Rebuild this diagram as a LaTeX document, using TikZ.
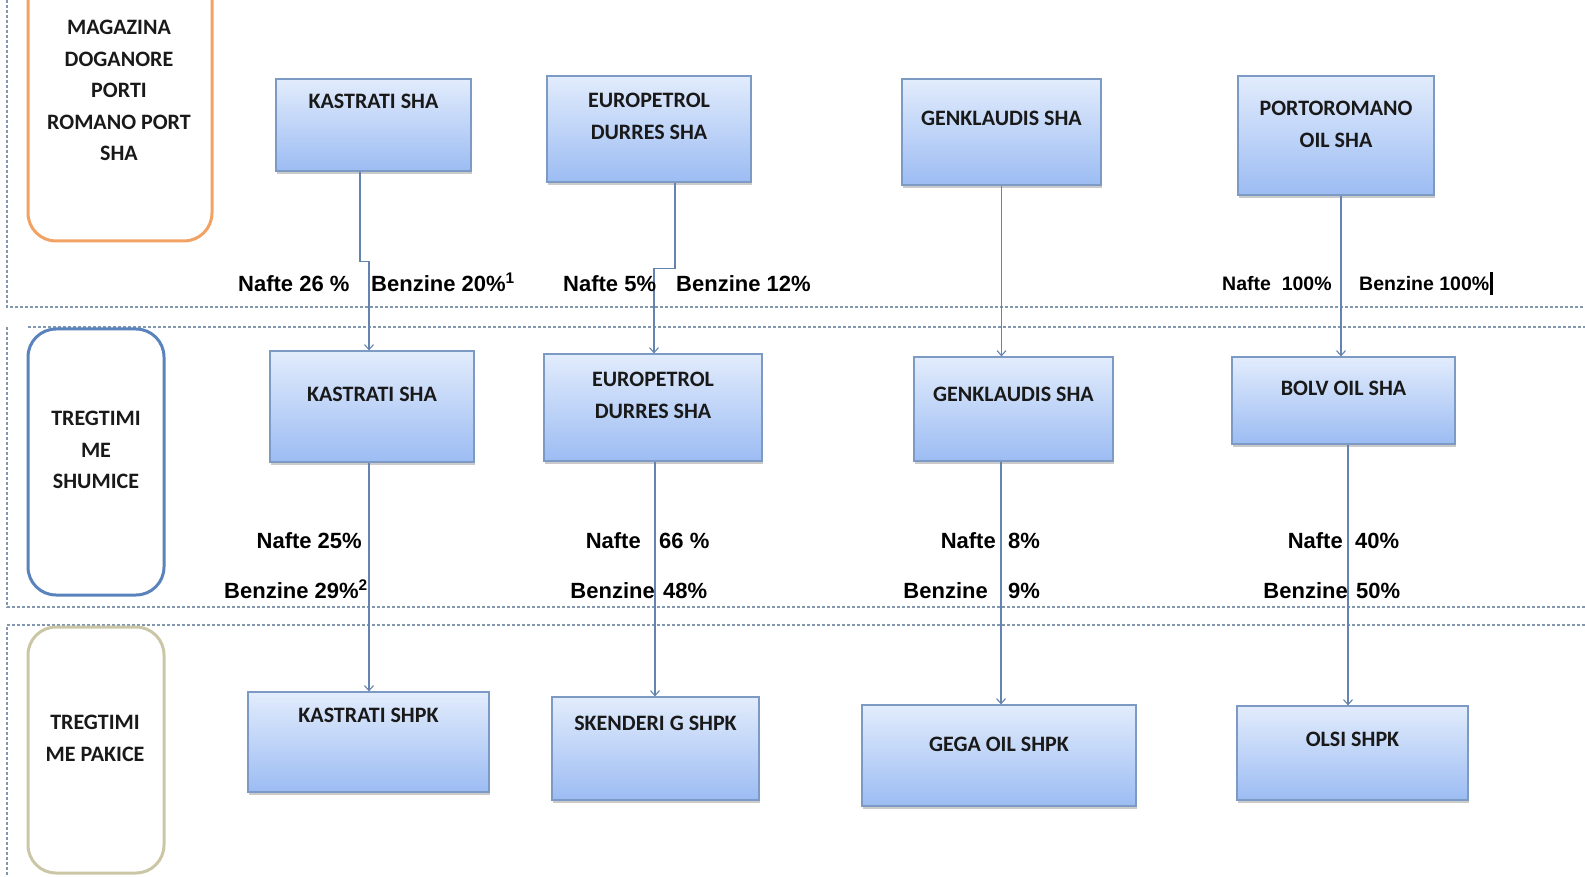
\documentclass[tikz,border=0pt]{standalone}
\usepackage{fontspec}
\setmainfont{Carlito}
\newfontfamily\labelfont{Liberation Sans}
\usetikzlibrary{arrows.meta,positioning,calc,shadows}

\definecolor{boxtop}{HTML}{E2ECFC}
\definecolor{boxbot}{HTML}{9CBCF3}
\definecolor{boxline}{HTML}{7C9AC4}
\definecolor{flowline}{HTML}{6483AE}
\definecolor{gridline}{HTML}{8397B0}
\definecolor{portorange}{HTML}{F2A263}
\definecolor{wholeblue}{HTML}{5A82BC}
\definecolor{retailtan}{HTML}{CBC6A6}

\tikzset{
  firm/.style={draw=boxline, line width=1.2pt, top color=boxtop, bottom color=boxbot,
    drop shadow={opacity=0.35, shadow xshift=1pt, shadow yshift=-3pt, fill=black!60}, inner sep=0pt},
  firmtext/.style={font=\bfseries\fontsize{22}{32}\selectfont, align=center, inner sep=0pt, text=black!90},
  levelbox/.style={rounded corners=28pt, line width=3pt, inner sep=0pt},
  leveltext/.style={font=\bfseries\fontsize{22}{31.5}\selectfont, align=center, inner sep=0pt, text=black!90},
  share/.style={font=\labelfont\bfseries\fontsize{22}{26}\selectfont, inner sep=0pt},
  shareport/.style={font=\labelfont\bfseries\fontsize{19.5}{24}\selectfont, inner sep=0pt},
  flow/.style={draw=flowline, line width=1.1pt, -{Straight Barb[length=5pt,width=9pt,line width=1.1pt]}},
  lane/.style={draw=gridline, line width=1.1pt, dash pattern=on 3pt off 2pt},
}

\begin{document}
\begin{tikzpicture}[x=1pt,y=-1pt]
\useasboundingbox (0,0) rectangle (1585,877);

% Lanes
\draw[lane] (7,0) -- (7,307) -- (1585,307);
\draw[lane] (28,327) -- (1585,327);
\draw[lane] (7,327) -- (7,607) -- (1585,607);
\draw[lane] (7,625) -- (1585,625);
\draw[lane] (7,627) -- (7,877);

% Levels
\node[levelbox, draw=portorange, minimum width=184pt, minimum height=281pt] (port) at (120,100.5) {};
\node[leveltext] (portt) at (119,90.5) {MAGAZINA\\DOGANORE\\PORTI\\ROMANO PORT\\SHA};
\node[levelbox, draw=wholeblue, minimum width=136pt, minimum height=266pt] (whole) at (96,462) {};
\node[leveltext] (wholet) at (96,450) {TREGTIMI\\ME\\SHUMICE};
\node[levelbox, draw=retailtan, minimum width=136pt, minimum height=246pt] (retail) at (96,750) {};
\node[leveltext] (retailt) at (95,738.5) {TREGTIMI\\ME PAKICE};

% Customs warehouses
\node[firm, minimum width=195pt, minimum height=92pt] (kasA) at (373.5,125) {};
\node[firmtext] (kasAt) at (kasA.center |- 0,101) {KASTRATI SHA};
\node[firm, minimum width=204pt, minimum height=106pt] (eurA) at (649,129) {};
\node[firmtext] (eurAt) at (eurA.center |- 0,116) {EUROPETROL\\DURRES SHA};
\node[firm, minimum width=199pt, minimum height=106pt] (genA) at (1001.5,132) {};
\node[firmtext] (genAt) at (genA.center |- 0,118) {GENKLAUDIS SHA};
\node[firm, minimum width=196pt, minimum height=119pt] (porA) at (1336,135.5) {};
\node[firmtext] (porAt) at (porA.center |- 0,124.5) {PORTOROMANO\\OIL SHA};

% Wholesale
\node[firm, minimum width=204pt, minimum height=111pt] (kasB) at (372,406.5) {};
\node[firmtext] (kasBt) at (kasB.center |- 0,394) {KASTRATI SHA};
\node[firm, minimum width=218pt, minimum height=107pt] (eurB) at (653,407.5) {};
\node[firmtext] (eurBt) at (eurB.center |- 0,395) {EUROPETROL\\DURRES SHA};
\node[firm, minimum width=199pt, minimum height=104pt] (genB) at (1013.5,409) {};
\node[firmtext] (genBt) at (genB.center |- 0,394) {GENKLAUDIS SHA};
\node[firm, minimum width=223pt, minimum height=87pt] (bolB) at (1343.5,400.5) {};
\node[firmtext] (bolBt) at (bolB.center |- 0,388) {BOLV OIL SHA};

% Retail
\node[firm, minimum width=241pt, minimum height=100pt] (kasC) at (368.5,742) {};
\node[firmtext] (kasCt) at (kasC.center |- 0,715) {KASTRATI SHPK};
\node[firm, minimum width=207pt, minimum height=103pt] (skeC) at (655.5,748.5) {};
\node[firmtext] (skeCt) at (skeC.center |- 0,723) {SKENDERI G SHPK};
\node[firm, minimum width=274pt, minimum height=101pt] (gegC) at (999,755.5) {};
\node[firmtext] (gegCt) at (gegC.center |- 0,744) {GEGA OIL SHPK};
\node[firm, minimum width=231pt, minimum height=94pt] (olsC) at (1352.5,753) {};
\node[firmtext] (olsCt) at (olsC.center |- 0,739) {OLSI SHPK};

% Flows warehouse -> wholesale
\draw[flow] ([xshift=-13.5pt]kasA.south) -- ++(0,90) -| ([xshift=-3pt]kasB.north);
\draw[flow] ([xshift=26pt]eurA.south) -- ++(0,86) -| ([xshift=1pt]eurB.north);
\draw[flow] (genA.south) -- (genA.south |- genB.north);
\draw[flow] ([xshift=5pt]porA.south) -- ([xshift=5pt]porA.south |- bolB.north);

% Flows wholesale -> retail
\draw[flow] ([xshift=-3pt]kasB.south) -- ([xshift=-3pt]kasB.south |- kasC.north);
\draw[flow] ([xshift=2pt]eurB.south) -- ([xshift=2pt]eurB.south |- skeC.north);
\draw[flow] ([xshift=-12.5pt]genB.south) -- ([xshift=-12.5pt]genB.south |- gegC.north);
\draw[flow] ([xshift=4.5pt]bolB.south) -- ([xshift=4.5pt]bolB.south |- olsC.north);

% Shares, first level
\node[share, anchor=mid west] (nafA) at (238,289) {Nafte 26 \%};
\node[share, anchor=mid west] (benA) at (371,289) {Benzine 20\%\textsuperscript{1}};
\node[share, anchor=mid west] (nafB) at (563,289) {Nafte 5\%};
\node[share, anchor=mid west] (benB) at (676,289) {Benzine 12\%};
\node[shareport, anchor=mid west] (nafD) at (1222,288) {Nafte\ \ 100\%};
\node[shareport, anchor=mid west] (benD) at (1359,288) {Benzine 100\%};
\draw[line width=2.2pt] ([xshift=2pt,yshift=4pt]benD.north east) -- ([xshift=2pt,yshift=-4pt]benD.south east);

% Shares, second level
\node[share, anchor=mid east] (nafK) at (362,546) {Nafte 25\%};
\node[share, anchor=mid east] (benK) at (368,596) {Benzine 29\%\textsuperscript{2}};
\node[share, anchor=mid east] (nafE) at (641,546) {Nafte};
\node[share, anchor=mid west] (nafEv) at (659,546) {66 \%};
\node[share, anchor=mid east] (benE) at (655,596) {Benzine};
\node[share, anchor=mid west] (benEv) at (663,596) {48\%};
\node[share, anchor=mid east] (nafG) at (996,546) {Nafte};
\node[share, anchor=mid west] (nafGv) at (1008,546) {8\%};
\node[share, anchor=mid east] (benG) at (988,596) {Benzine};
\node[share, anchor=mid west] (benGv) at (1008,596) {9\%};
\node[share, anchor=mid east] (nafO) at (1343,546) {Nafte};
\node[share, anchor=mid west] (nafOv) at (1355,546) {40\%};
\node[share, anchor=mid east] (benO) at (1348,596) {Benzine};
\node[share, anchor=mid west] (benOv) at (1356,596) {50\%};
\end{tikzpicture}
\end{document}
